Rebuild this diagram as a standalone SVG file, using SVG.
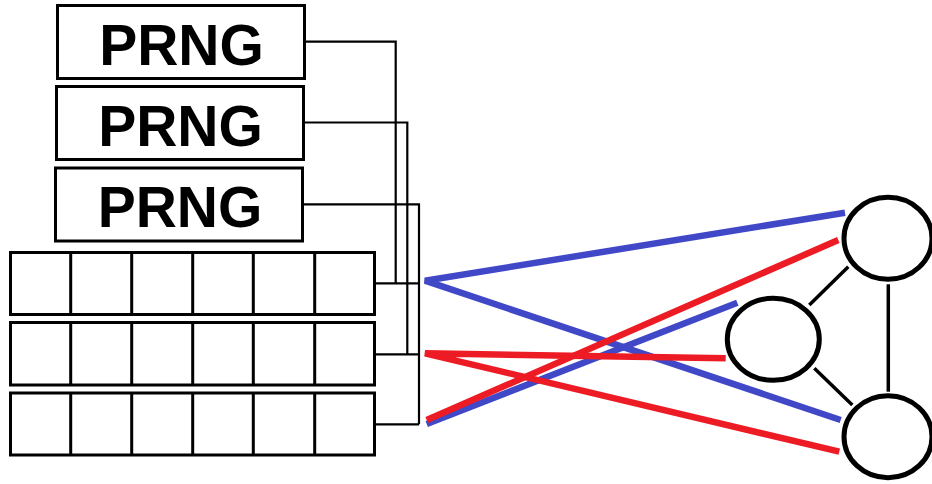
<svg xmlns="http://www.w3.org/2000/svg" width="932" height="484" viewBox="0 0 932 484">
  <style>
    .box { fill: #fff; stroke: #000; stroke-width: 3; }
    .label { font-family: "Liberation Sans", Arial, sans-serif; font-weight: bold; font-size: 57px; text-anchor: middle; fill: #000; }
    .cell { fill: #fff; stroke: #000; stroke-width: 3; }
    .wire { fill: none; stroke: #000; stroke-width: 2.2; }
    .blue { stroke: #4048C8; stroke-width: 6.5; fill: none; }
    .red { stroke: #ED1C24; stroke-width: 6.5; fill: none; }
    .vertex { fill: #fff; stroke: #000; stroke-width: 5; }
    .edge { stroke: #000; stroke-width: 3.5; }
  </style>
  <rect width="932" height="484" fill="#fff"/>

  <!-- generators -->
  <g id="prng1">
    <rect class="box" x="57.5" y="5.5" width="247" height="73"/>
    <text class="label" x="181.5" y="65">PRNG</text>
  </g>
  <g id="prng2">
    <rect class="box" x="56.5" y="86.5" width="247" height="73"/>
    <text class="label" x="180.5" y="145.5">PRNG</text>
  </g>
  <g id="prng3">
    <rect class="box" x="55.5" y="168" width="247" height="73"/>
    <text class="label" x="180" y="227">PRNG</text>
  </g>

  <!-- register rows -->
  <g id="row1">
    <rect class="cell" x="10.5" y="252.5" width="364" height="62"/>
    <path class="cell" d="M70.7 252.5V314.5M131.7 252.5V314.5M192.7 252.5V314.5M253.3 252.5V314.5M314.7 252.5V314.5"/>
  </g>
  <g id="row2">
    <rect class="cell" x="10.5" y="322.5" width="364" height="62.5"/>
    <path class="cell" d="M70.7 322.5V385M131.7 322.5V385M192.7 322.5V385M253.3 322.5V385M314.7 322.5V385"/>
  </g>
  <g id="row3">
    <rect class="cell" x="10.5" y="393" width="364" height="62"/>
    <path class="cell" d="M70.7 393V455M131.7 393V455M192.7 393V455M253.3 393V455M314.7 393V455"/>
  </g>

  <!-- graph vertices -->
  <g id="v-top">
    <ellipse class="vertex" cx="888" cy="238.3" rx="44" ry="41"/>
  </g>
  <g id="v-mid">
    <ellipse class="vertex" cx="773.3" cy="339.3" rx="46" ry="41"/>
  </g>
  <g id="v-bottom">
    <ellipse class="vertex" cx="888" cy="436.7" rx="44" ry="41"/>
  </g>

  <g id="connectors">
    <!-- generator wiring -->
    <polyline class="wire" points="305,41.7 395.7,41.7 395.7,283.3"/>
    <polyline class="wire" points="304,122.5 407.3,122.5 407.3,354.3"/>
    <polyline class="wire" points="303,204.3 419,204.3 419,424.3"/>
    <line class="wire" x1="376" y1="283.3" x2="419" y2="283.3"/>
    <line class="wire" x1="376" y1="354.3" x2="419" y2="354.3"/>
    <line class="wire" x1="376" y1="424.3" x2="419" y2="424.3"/>

    <!-- graph edges -->
    <line class="edge" x1="848.3" y1="266.7" x2="809.3" y2="305"/>
    <line class="edge" x1="814.3" y1="368.3" x2="852.3" y2="405"/>
    <line class="edge" x1="888.3" y1="284.3" x2="888.3" y2="391.7"/>

    <!-- mappings -->
    <polyline class="blue" points="845,212.7 425,280.7 840.7,420"/>
    <line class="blue" x1="426.7" y1="424" x2="737.3" y2="302.7"/>
    <line class="red" x1="426.7" y1="420" x2="838.3" y2="240"/>
    <polyline class="red" points="725.7,358.3 425,353.3 839.3,451.7"/>
  </g>
</svg>
